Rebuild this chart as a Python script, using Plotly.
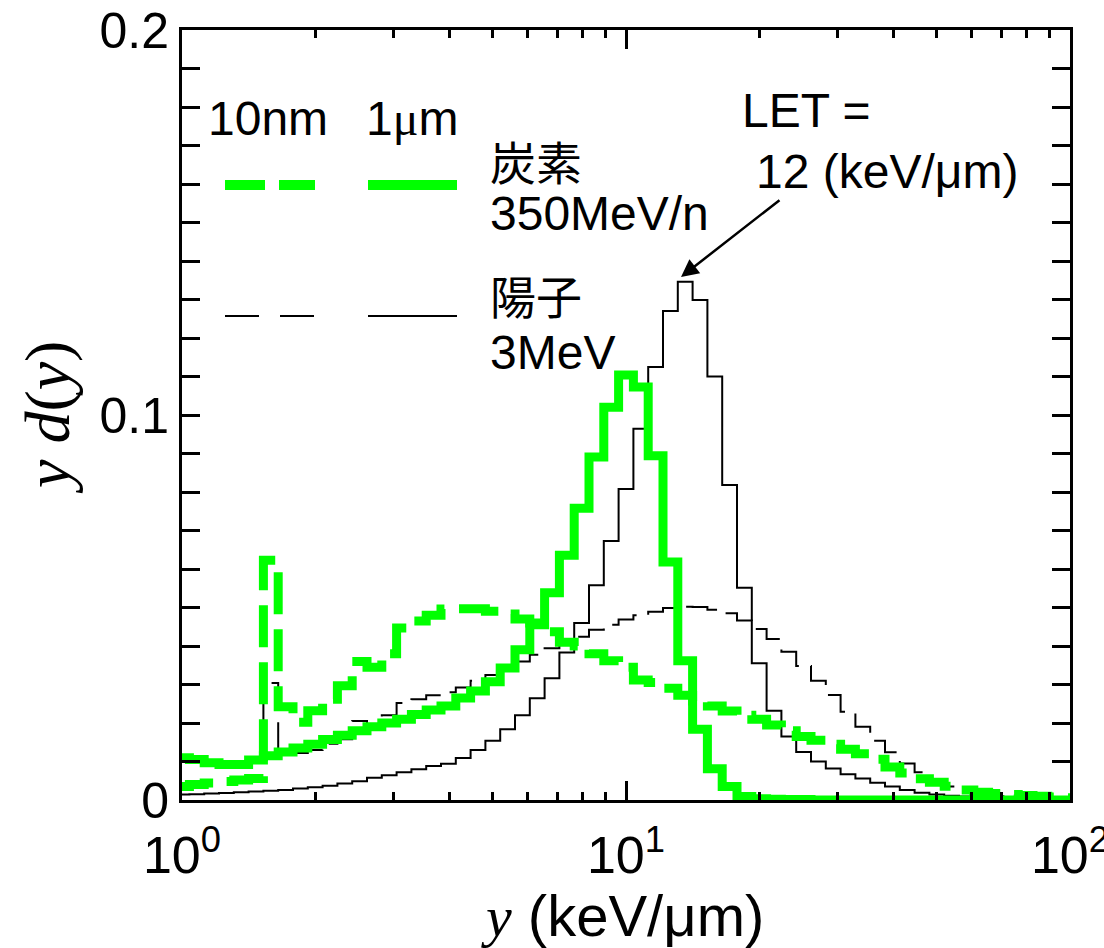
import plotly.graph_objects as go

# ---------------- data ----------------
# histogram bins: 30 per decade, bin k centred at 10**(k/30)
bins_per_decade = 30
n_bins = 61

carbon_1um = [
    0.0110, 0.0105, 0.0097, 0.0092, 0.0092, 0.0104, 0.0115, 0.0125, 0.0135, 0.0145,
    0.0157, 0.0168, 0.0180, 0.0190, 0.0200, 0.0210, 0.0222, 0.0234, 0.0244, 0.0265,
    0.0283, 0.0307, 0.0343, 0.0390, 0.0455, 0.0538, 0.0636, 0.0758, 0.0891, 0.1020,
    0.1104, 0.1073, 0.0894, 0.0618, 0.0362, 0.0184, 0.0081, 0.0035, 0.0009, 0.0003,
    0.0002, 0.0001, 0.0001, 0.0, 0.0, 0.0, 0.0, 0.0, 0.0, 0.0,
    0.0, 0.0, 0.0, 0.0, 0.0, 0.0, 0.0, 0.0, 0.0, 0.0, 0.0]

carbon_10nm = [
    0.0035, 0.0040, 0.0044, 0.0048, 0.0052, 0.0056, 0.0623, 0.0242, 0.0202, 0.0232,
    0.0262, 0.0297, 0.0360, 0.0345, 0.0380, 0.0447, 0.0465, 0.0480, 0.0496, 0.0497,
    0.0497, 0.0490, 0.0483, 0.0470, 0.0460, 0.0437, 0.0410, 0.0400, 0.0380, 0.0362,
    0.0345, 0.0312, 0.0305, 0.0290, 0.0272, 0.0257, 0.0244, 0.0231, 0.0220, 0.0210,
    0.0195, 0.0180, 0.0165, 0.0155, 0.0145, 0.0132, 0.0120, 0.0106, 0.0086, 0.0070,
    0.0055, 0.0046, 0.0036, 0.0026, 0.0020, 0.0017, 0.0014, 0.0012, 0.0010, 0.0008, 0.0006]

proton_1um = [
    0.0014, 0.0015, 0.0017, 0.0018, 0.0020, 0.0022, 0.0024, 0.0026, 0.0030, 0.0033,
    0.0037, 0.0043, 0.0049, 0.0058, 0.0064, 0.0072, 0.0080, 0.0088, 0.0094, 0.0109,
    0.0130, 0.0154, 0.0184, 0.0220, 0.0264, 0.0316, 0.0383, 0.0460, 0.0558, 0.0673,
    0.0808, 0.0964, 0.1125, 0.1270, 0.1346, 0.1299, 0.1100, 0.0818, 0.0551, 0.0355,
    0.0232, 0.0165, 0.0125, 0.0100, 0.0082, 0.0067, 0.0056, 0.0045, 0.0035, 0.0026,
    0.0019, 0.0014, 0.0011, 0.0009, 0.0008, 0.0006, 0.0005, 0.0004, 0.0003, 0.0003, 0.0002]

proton_10nm = [
    0.0108, 0.0102, 0.0096, 0.0093, 0.0094, 0.0104, 0.0304, 0.0120, 0.0122, 0.0130,
    0.0146, 0.0158, 0.0205, 0.0190, 0.0220, 0.0252, 0.0262, 0.0272, 0.0280, 0.0292,
    0.0310, 0.0325, 0.0343, 0.0360, 0.0377, 0.0394, 0.0410, 0.0424, 0.0442, 0.0455,
    0.0469, 0.0480, 0.0489, 0.0499, 0.0502, 0.0501, 0.0494, 0.0485, 0.0466, 0.0444,
    0.0418, 0.0385, 0.0348, 0.0310, 0.0273, 0.0229, 0.0190, 0.0154, 0.0124, 0.0095,
    0.0072, 0.0052, 0.0035, 0.0024, 0.0016, 0.0010, 0.0007, 0.0005, 0.0004, 0.0003, 0.0002]

x_tick_vals = [1, 10, 100]
x_tick_text = ["10<sup>0</sup>", "10<sup>1</sup>", "10<sup>2</sup>"]
y_tick_vals = [0, 0.1, 0.2]
y_tick_text = ["0", "0.1", "0.2"]

# ---------------- figure ----------------
edges = [10 ** ((k - 0.5) / bins_per_decade) for k in range(n_bins + 1)]


def step_xy(vals):
    return edges, list(vals) + [vals[-1]]


GREEN = "#00ff00"
SANS = "Liberation Sans, Arial, sans-serif"
SERIF = "Liberation Serif, Times New Roman, serif"

fig = go.Figure()
series = [
    (proton_10nm, "black", 2, "34px,12px"),
    (proton_1um, "black", 2, "solid"),
    (carbon_10nm, GREEN, 9, "42px,15px"),
    (carbon_1um, GREEN, 9, "solid"),
]
for vals, col, w, dash in series:
    xs, ys = step_xy(vals)
    fig.add_trace(go.Scatter(x=xs, y=ys, mode="lines", line_shape="hv",
                             line=dict(color=col, width=w, dash=dash),
                             showlegend=False, hoverinfo="skip"))

L, R, T, B = 182, 1070, 30, 800
W, H = 1104, 948


def px(x):
    return (x - L) / (R - L)


def py(y):
    return (B - y) / (B - T)


shapes = []
# legend sample lines
for (x0, x1), y, col, w in [((225, 265), 185, GREEN, 10), ((279, 315), 185, GREEN, 10),
                             ((368, 457), 185, GREEN, 10),
                             ((225, 259), 316, "black", 2), ((280, 314), 316, "black", 2),
                             ((368, 457), 316, "black", 2)]:
    shapes.append(dict(type="line", xref="paper", yref="paper",
                       x0=px(x0), x1=px(x1), y0=py(y), y1=py(y),
                       line=dict(color=col, width=w)))

ann = []


def txt(s, x, y, size=48, font=SANS, xanchor="left"):
    ann.append(dict(text=s, xref="paper", yref="paper", x=px(x), y=py(y),
                    xanchor=xanchor, yanchor="middle", showarrow=False,
                    font=dict(family=font, size=size, color="black")))


MU = "<span style='font-family:Liberation Serif, serif'>μ</span>"
txt("10nm", 206, 118)
txt("1" + MU + "m", 364, 118)
txt("炭素", 488, 160, font="Noto Sans CJK JP", size=46)
txt("350MeV/n", 488, 214)
txt("陽子", 488, 294, font="Noto Sans CJK JP", size=46)
txt("3MeV", 488, 352)
txt("LET =", 740, 110)
txt("12 (keV/μm)", 754, 172)

# arrow
ann.append(dict(text="", xref="paper", yref="paper", x=px(681), y=py(277),
                ax=100, ay=-78, axref="pixel", ayref="pixel",
                showarrow=True, arrowhead=2, arrowsize=1.4, arrowwidth=2.5,
                arrowcolor="black", standoff=0))

# axis titles
ann.append(dict(text="<span style='font-family:Liberation Serif, serif'><i>y</i></span> (keV/μm)",
                xref="paper", yref="paper",
                x=px(622), y=py(916), xanchor="center", yanchor="middle",
                showarrow=False, font=dict(family=SANS, size=58, color="black")))
ann.append(dict(text="<i>y d</i>(<i>y</i>)", xref="paper", yref="paper",
                x=px(48), y=py(418), xanchor="center", yanchor="middle",
                textangle=-90, showarrow=False,
                font=dict(family=SERIF, size=64, color="black")))

fig.update_layout(
    width=W, height=H,
    margin=dict(l=L, r=W - R, t=T, b=H - B, pad=0, autoexpand=False),
    paper_bgcolor="white", plot_bgcolor="white",
    shapes=shapes, annotations=ann,
    xaxis=dict(type="log", range=[0, 2], tickmode="array", tickvals=x_tick_vals,
               ticktext=x_tick_text, ticks="inside", ticklen=19, tickwidth=3,
               tickcolor="black", showline=True, linewidth=3, linecolor="black",
               mirror="allticks", showgrid=False, zeroline=False, automargin=False,
               ticklabelstandoff=8, ticklabeloverflow="allow",
               tickfont=dict(family=SANS, size=52, color="black"),
               minor=dict(ticks="inside", ticklen=8, tickwidth=2.5, tickcolor="black",
                          tickmode="array",
                          tickvals=[2, 3, 4, 5, 6, 7, 8, 9, 20, 30, 40, 50, 60, 70, 80, 90],
                          showgrid=False)),
    yaxis=dict(range=[0, 0.2], tickmode="array", tickvals=y_tick_vals,
               ticktext=y_tick_text, ticks="inside", ticklen=18, tickwidth=3,
               tickcolor="black", showline=True, linewidth=3, linecolor="black",
               mirror="allticks", showgrid=False, zeroline=False, automargin=False,
               ticklabelstandoff=0, ticklabeloverflow="allow",
               tickfont=dict(family=SANS, size=50, color="black"),
               minor=dict(ticks="inside", ticklen=18, tickwidth=3, tickcolor="black",
                          dtick=0.01, showgrid=False)),
)

fig.write_html("out.html")
